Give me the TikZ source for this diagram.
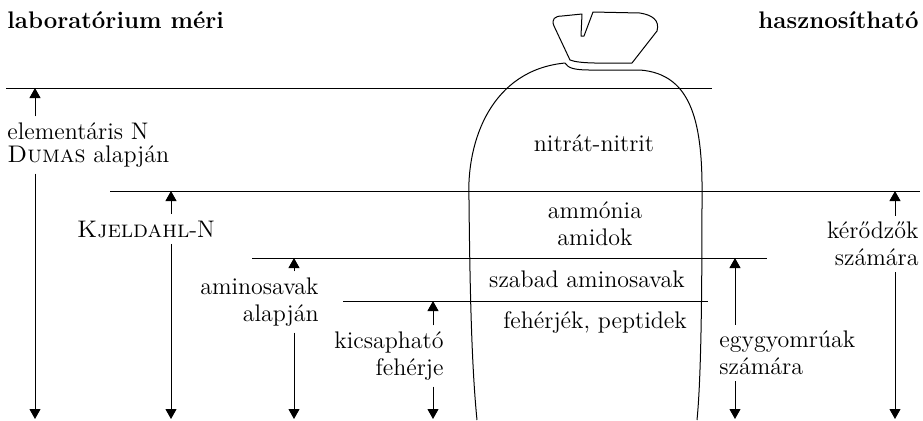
\documentclass[tikz,border=0pt]{standalone}
\usepackage{fontspec}
\usetikzlibrary{arrows.meta}

\begin{document}
\begin{tikzpicture}[x=0.5pt,y=-0.5pt,line join=round,
  >={Triangle[length=5pt,width=5.5pt]},
  lbl/.style={font=\fontsize{12}{13.5}\selectfont,inner xsep=0pt,inner ysep=3pt},
  head/.style={font=\fontsize{12}{14}\selectfont\bfseries,inner sep=0pt},
  meas/.style={->,line width=0.5pt},
  lvl/.style={line width=0.5pt}]
  \useasboundingbox (0,0) rectangle (923,420);
  % level lines
  \coordinate (L1w) at (6,88);
  \coordinate (L1e) at (712,88);
  \coordinate (L2w) at (110,191);
  \coordinate (L2e) at (920,191);
  \coordinate (L3w) at (252,258);
  \coordinate (L3e) at (767,258);
  \coordinate (L4w) at (343,301);
  \coordinate (L4e) at (708,301);
  % arrow ends
  \coordinate (aT) at (35,88);
  \coordinate (aB) at (35,419);
  \coordinate (bT) at (171,191);
  \coordinate (bB) at (171,419);
  \coordinate (cT) at (294,258);
  \coordinate (cB) at (294,419);
  \coordinate (dT) at (433,301);
  \coordinate (dB) at (433,419);
  \coordinate (eT) at (735,258);
  \coordinate (eB) at (735,419);
  \coordinate (fT) at (895,191);
  \coordinate (fB) at (895,419);
  % the sack
  \draw[lvl] (477,420) .. controls (472,370) and (470,300) .. (469,200)
    .. controls (466,140) and (492,70) .. (565,63)
    .. controls (568,68) and (574,70) .. (590,70)
    -- (640,70)
    .. controls (693,74) and (703,125) .. (702,200)
    .. controls (702,300) and (701,380) .. (697,420);
  \draw[lvl] (570,60) -- (554,26)
    .. controls (551,19) and (555,16) .. (562,16)
    -- (582,14) -- (581,36) -- (584,36) -- (593,12)
    -- (640,13) .. controls (652,15) and (660,20) .. (657,31)
    -- (632,63) .. controls (605,63) and (580,64) .. (570,60) -- cycle;
  \draw[lvl] (L1w) -- (L1e);
  \draw[lvl] (L2w) -- (L2e);
  \draw[lvl] (L3w) -- (L3e);
  \draw[lvl] (L4w) -- (L4e);
  % headings
  \node[head,anchor=base west] (lab) at (7,28) {laboratórium méri};
  \node[head,anchor=base east] (use) at (919,28) {hasznosítható};
  % fractions inside the sack
  \node[lbl,anchor=base] (nit) at (594,151) {nitrát-nitrit};
  \node[lbl,align=center] (amm) at (595,224) {ammónia\\amidok};
  \node[lbl,anchor=base] (aas) at (587,287) {szabad aminosavak};
  \node[lbl,anchor=base] (feh) at (595,328) {fehérjék, peptidek};
  % measured ranges
  \node[lbl,align=left,anchor=west,font=\fontsize{12}{11.5}\selectfont] (dumas) at (7,145) {elementáris N\\\textsc{Dumas} alapján};
  \node[lbl] (kjel) at (146,229) {\textsc{Kjeldahl}-N};
  \node[lbl,align=right,anchor=east] (amino) at (319,302) {aminosavak\\alapján};
  \node[lbl,align=right,anchor=east] (kics) at (444,356) {kicsapható\\fehérje};
  \node[lbl,align=left,anchor=west] (egy) at (719,353) {egygyomrúak\\számára};
  \node[lbl,align=right,anchor=east] (ker) at (919,244) {kérődzők\\számára};
  \draw[meas] (dumas.north -| aT) -- (aT);
  \draw[meas] (dumas.south -| aB) -- (aB);
  \draw[meas] (kjel.north -| bT) -- (bT);
  \draw[meas] (kjel.south -| bB) -- (bB);
  \draw[meas] (amino.north -| cT) -- (cT);
  \draw[meas] (amino.south -| cB) -- (cB);
  \draw[meas] (kics.north -| dT) -- (dT);
  \draw[meas] (kics.south -| dB) -- (dB);
  \draw[meas] (egy.north -| eT) -- (eT);
  \draw[meas] (egy.south -| eB) -- (eB);
  \draw[meas] (ker.north -| fT) -- (fT);
  \draw[meas] (ker.south -| fB) -- (fB);
\end{tikzpicture}
\end{document}
